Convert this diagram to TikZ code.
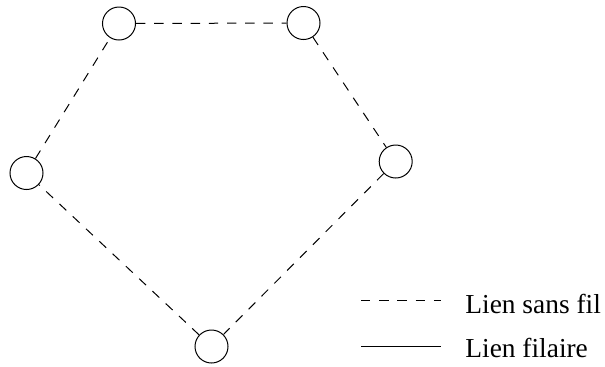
\documentclass[tikz,border=0pt]{standalone}
\usepackage{fontspec}
\setmainfont{Liberation Serif}
\begin{document}
\begin{tikzpicture}[x=0.5pt,y=-0.5pt,
  station/.style={circle,draw,line width=0.5pt,minimum size=16.5pt,inner sep=0pt},
  wireless/.style={line width=0.5pt,dash pattern=on 4.7pt off 4.4pt},
  wired/.style={line width=0.5pt},
  legendtext/.style={anchor=base west,inner sep=0pt,font=\fontsize{13.7}{16}\selectfont}]
\useasboundingbox (0,0) rectangle (605,366);
\node[station] (a) at (119,23.5) {};
\node[station] (b) at (303.5,23) {};
\node[station] (c) at (395.7,161.5) {};
\node[station] (d) at (211.5,346.5) {};
\node[station] (e) at (26.5,173) {};
\draw[wireless] (a) -- (b);
\draw[wireless] (b) -- (c);
\draw[wireless] (c) -- (d);
\draw[wireless] (d) -- (e);
\draw[wireless] (e) -- (a);
\coordinate (l1a) at (361,300);
\coordinate (l1b) at (441,300);
\coordinate (l2a) at (361,346);
\coordinate (l2b) at (441,346);
\draw[wireless] (l1a) -- (l1b);
\draw[wired] (l2a) -- (l2b);
\node[legendtext] (t1) at (465,313) {Lien sans fil};
\node[legendtext] (t2) at (465,357) {Lien filaire};
\end{tikzpicture}
\end{document}
